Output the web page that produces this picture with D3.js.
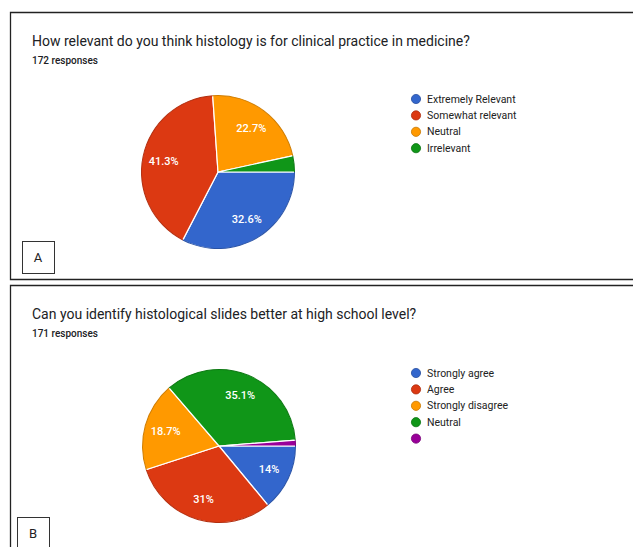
<!DOCTYPE html>
<html>
<head>
<meta charset="utf-8">
<script src="https://cdn.jsdelivr.net/npm/d3@7"></script>
<style>
  body { margin: 0; background: #fff; }
  svg { display: block; font-family: Roboto, Arial, sans-serif; }
</style>
</head>
<body>
<div id="chart"></div>
<script>
// Datos del panel A
const labelsA = ["Extremely Relevant", "Somewhat relevant", "Neutral", "Irrelevant"];
const valuesA = [32.6, 41.3, 22.7, 3.4];
const shownA = ["32.6%", "41.3%", "22.7%", ""];

// Datos del panel B
const labelsB = ["Strongly agree", "Agree", "Strongly disagree", "Neutral", ""];
const valuesB = [14, 31, 18.7, 35.1, 1.2];
const shownB = ["14%", "31%", "18.7%", "35.1%", ""];

const colors = ["#3366cc", "#dc3912", "#ff9900", "#109618", "#990099"];

const width = 633, height = 547;

const svg = d3.select("#chart").append("svg")
    .attr("width", width)
    .attr("height", height);

// Marcos de los paneles
svg.append("path")
    .attr("d", "M640,12.5 H10.5 V279.5 H640")
    .attr("fill", "none").attr("stroke", "#222").attr("stroke-width", 1.3);
svg.append("path")
    .attr("d", "M640,285.5 H10.5 V560")
    .attr("fill", "none").attr("stroke", "#222").attr("stroke-width", 1.3);

function drawPanel(opts) {
    const g = svg.append("g");

    g.append("text")
        .attr("x", 32).attr("y", opts.top + 34)
        .attr("font-size", "14px").attr("fill", "#202124")
        .text(opts.title);

    g.append("text")
        .attr("x", 32).attr("y", opts.top + 52)
        .attr("font-size", "10px").attr("font-weight", 500).attr("fill", "#202124")
        .text(opts.responses);

    const r = 77;
    const pie = d3.pie().sort(null)
        .startAngle(Math.PI / 2).endAngle(Math.PI / 2 + 2 * Math.PI);
    const arcs = pie(opts.values);
    const arc = d3.arc().innerRadius(0).outerRadius(r);
    const labelArc = d3.arc().innerRadius(r * 0.72).outerRadius(r * 0.72);

    const pg = g.append("g").attr("transform", `translate(${opts.cx},${opts.cy})`);

    pg.selectAll("path.slice")
        .data(arcs)
        .join("path")
        .attr("class", "slice")
        .attr("d", arc)
        .attr("fill", (d, i) => colors[i])
        .attr("stroke", "#fff")
        .attr("stroke-width", 1.2);

    // Borde oscuro sutil alrededor del círculo
    pg.selectAll("path.rim")
        .data(arcs)
        .join("path")
        .attr("class", "rim")
        .attr("d", d3.arc().innerRadius(r - 1).outerRadius(r).padAngle(0))
        .attr("fill", (d, i) => d3.color(colors[i]).darker(0.6));

    pg.selectAll("text.pct")
        .data(arcs)
        .join("text")
        .attr("class", "pct")
        .attr("transform", d => `translate(${labelArc.centroid(d)})`)
        .attr("text-anchor", "middle")
        .attr("dy", "0.35em")
        .attr("font-size", "11px")
        .attr("font-weight", 500)
        .attr("fill", "#fff")
        .text((d, i) => opts.shown[i]);

    // Leyenda
    const leg = g.append("g").attr("transform", `translate(416,${opts.legTop})`);
    const items = leg.selectAll("g")
        .data(opts.labels)
        .join("g")
        .attr("transform", (d, i) => `translate(0,${i * 16.4})`);
    items.append("circle")
        .attr("r", 4.6)
        .attr("fill", (d, i) => colors[i])
        .attr("stroke", (d, i) => d3.color(colors[i]).darker(0.7))
        .attr("stroke-width", 0.8);
    items.append("text")
        .attr("x", 11).attr("dy", "0.35em")
        .attr("font-size", "10.5px").attr("fill", "#222")
        .text(d => d);

    // Caja con la letra del panel
    g.append("rect")
        .attr("x", opts.box[0] + 0.5).attr("y", opts.box[1] + 0.5)
        .attr("width", 32).attr("height", 32)
        .attr("fill", "#fff").attr("stroke", "#333").attr("stroke-width", 1);
    g.append("text")
        .attr("x", opts.box[0] + 16).attr("y", opts.box[1] + 21)
        .attr("text-anchor", "middle")
        .attr("font-size", "13px").attr("fill", "#222")
        .text(opts.letter);
}

drawPanel({
    top: 12, title: "How relevant do you think histology is for clinical practice in medicine?",
    responses: "172 responses", values: valuesA, labels: labelsA, shown: shownA,
    cx: 218, cy: 172, legTop: 99, box: [22, 241], letter: "A"
});

drawPanel({
    top: 285, title: "Can you identify histological slides better at high school level?",
    responses: "171 responses", values: valuesB, labels: labelsB, shown: shownB,
    cx: 219, cy: 446, legTop: 373, box: [17, 517], letter: "B"
});
</script>
</body>
</html>
